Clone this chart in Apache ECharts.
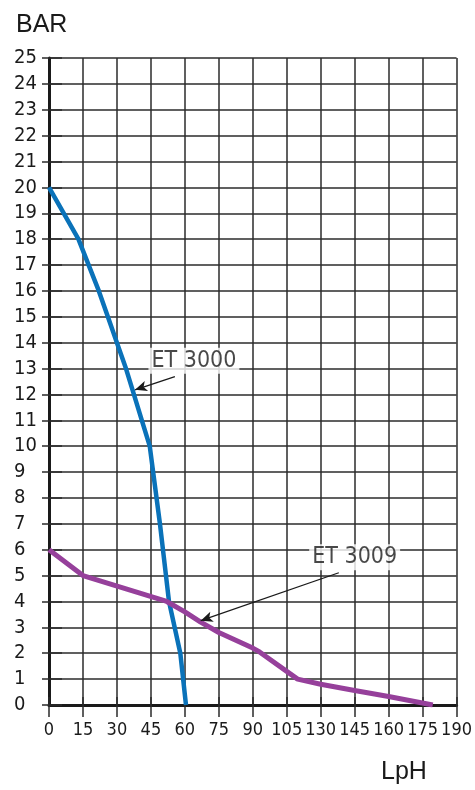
<!DOCTYPE html>
<html>
<head>
<meta charset="utf-8">
<script src="https://cdn.jsdelivr.net/npm/echarts@6/dist/echarts.min.js"></script>
<style>html,body{margin:0;padding:0;background:#fff;}#c{width:475px;height:790px;}</style>
</head>
<body>
<div id="c"></div>
<script>
// Tick labels of the (non-uniform) LpH axis, one per grid column
const xTicks = [0, 15, 30, 45, 60, 75, 90, 105, 130, 145, 160, 175, 190];
// ET 3000 curve (LpH, BAR)
const et3000Flow = [0, 13, 22, 26, 30, 34, 37.5, 41, 44.5, 49, 53, 58, 60.5];
const et3000Bar  = [20, 18, 16, 15, 14, 13, 12, 11, 10, 7, 4, 2, 0];
// ET 3009 curve (LpH, BAR)
const et3009Flow = [0, 15, 52, 60, 67, 75, 90, 93, 113, 130, 145, 160, 179.5];
const et3009Bar  = [6, 5, 4.0, 3.6, 3.2, 2.8, 2.2, 2.05, 1.0, 0.8, 0.56, 0.33, 0];
// Annotations (LpH, BAR)
const labels = [
  {text: 'ET 3000', at: [64, 13.3], from: [55.6, 12.69], to: [38, 12.18]},
  {text: 'ET 3009', at: [145, 5.71], from: [138, 5.11], to: [67, 3.26]}
];

// map an LpH value onto the evenly spaced tick positions
function pos(v) {
  for (let i = 0; i < xTicks.length - 1; i++) {
    if (v <= xTicks[i + 1]) return i + (v - xTicks[i]) / (xTicks[i + 1] - xTicks[i]);
  }
  return xTicks.length - 1;
}
const pts = (xs, ys) => xs.map((x, i) => [pos(x), ys[i]]);
const P = a => [pos(a[0]), a[1]];

const FONT = "'DejaVu Sans Condensed', 'Liberation Sans Narrow', sans-serif";
const GRIDC = '#2b2b2b';

const chart = echarts.init(document.getElementById('c'));
chart.setOption({
  animation: false,
  backgroundColor: '#fff',
  title: [
    {text: 'BAR', left: 11, top: 8, textStyle: {fontFamily: 'Liberation Sans, sans-serif', fontWeight: 'normal', fontSize: 25, color: '#1a1a1a'}},
    {text: 'LpH', left: 376, top: 755, textStyle: {fontFamily: 'Liberation Sans, sans-serif', fontWeight: 'normal', fontSize: 25, color: '#1a1a1a'}}
  ],
  grid: {left: 49, right: 18, top: 58, bottom: 85},
  xAxis: [{
    type: 'value', min: 0, max: 12, interval: 1,
    axisLine: {show: true, onZero: false, lineStyle: {color: '#1a1a1a', width: 3}},
    axisTick: {show: true, length: 12, lineStyle: {color: GRIDC, width: 1.5}},
    splitLine: {show: true, lineStyle: {color: GRIDC, width: 1.5}},
    axisLabel: {margin: 16, fontFamily: FONT, fontSize: 18, color: '#1a1a1a',
      showMinLabel: true, showMaxLabel: true, hideOverlap: false,
      formatter: v => String(xTicks[Math.round(v)])}
  }, {
    type: 'value', position: 'top', min: 0, max: 12, interval: 1,
    axisLine: {show: false},
    axisTick: {show: true, length: 8, lineStyle: {color: GRIDC, width: 1.5}},
    splitLine: {show: false}, axisLabel: {show: false}
  }],
  yAxis: [{
    type: 'value', min: 0, max: 25, interval: 1,
    axisLine: {show: true, onZero: false, lineStyle: {color: '#1a1a1a', width: 3}},
    axisTick: {show: true, length: 7, lineStyle: {color: GRIDC, width: 1.5}},
    splitLine: {show: true, lineStyle: {color: GRIDC, width: 1.5}},
    axisLabel: {align: 'left', margin: 35, fontFamily: FONT, fontSize: 20, color: '#1a1a1a', padding: [0, 0, 4, 0]}
  }, {
    type: 'value', position: 'right', min: 0, max: 25, interval: 1,
    axisLine: {show: false},
    axisTick: {show: true, length: 13, lineStyle: {color: GRIDC, width: 1.5}},
    splitLine: {show: false}, axisLabel: {show: false}
  }],
  series: [
    {
      type: 'line', name: 'ET 3000', data: pts(et3000Flow, et3000Bar),
      showSymbol: false, symbol: 'none', lineStyle: {color: '#0a72b9', width: 4.5}, z: 3
    },
    {
      type: 'line', name: 'ET 3009', data: pts(et3009Flow, et3009Bar),
      showSymbol: false, symbol: 'none', lineStyle: {color: '#96409b', width: 5}, z: 3
    },
    {
      type: 'scatter', data: labels.map(l => ({value: P(l.at), name: l.text})),
      symbolSize: 0, z: 5,
      label: {show: true, position: 'inside', formatter: p => p.name, fontFamily: FONT, fontSize: 23,
        color: '#1a1a1a', backgroundColor: '#fff', padding: [2, 3, 1, 3]},
      markLine: {
        silent: true, symbol: ['none', 'arrow'], symbolSize: [8, 12],
        lineStyle: {color: '#1a1a1a', width: 1.3, type: 'solid'}, label: {show: false},
        data: labels.map(l => [{coord: P(l.from)}, {coord: P(l.to)}])
      }
    }
  ]
});
</script>
</body>
</html>
